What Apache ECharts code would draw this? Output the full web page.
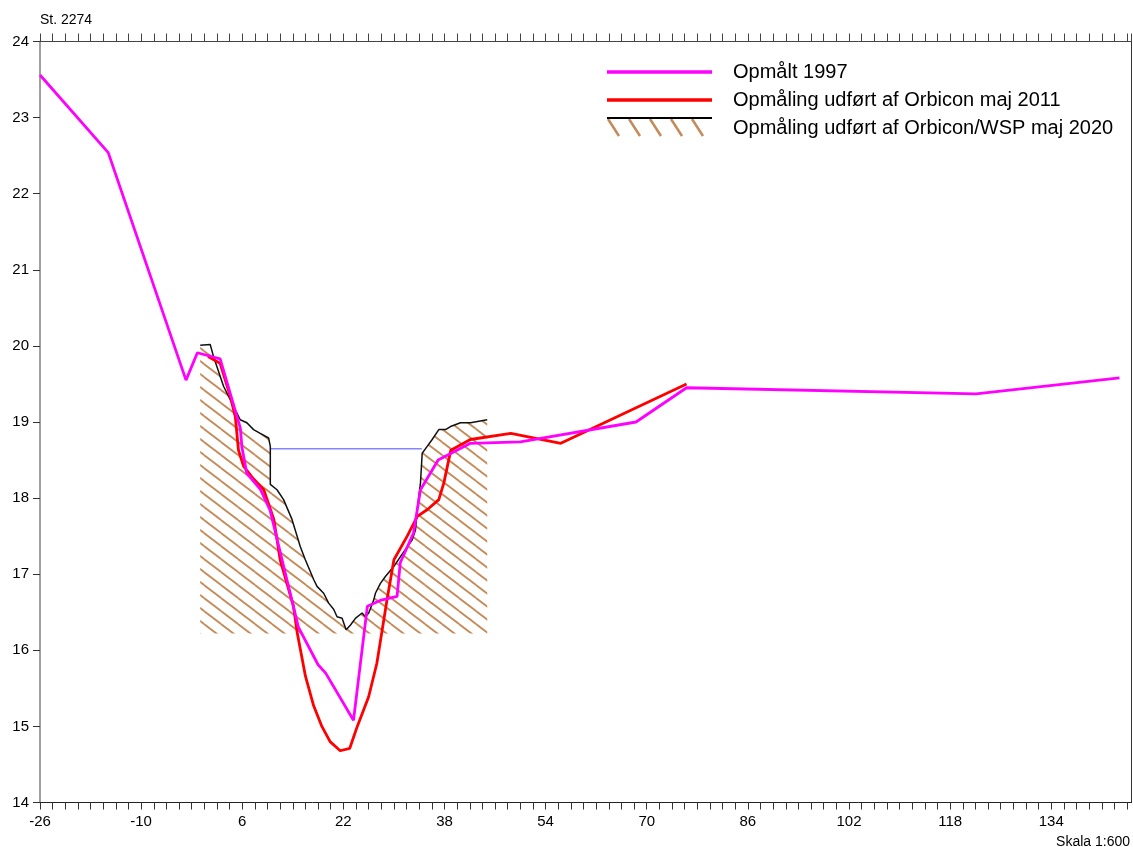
<!DOCTYPE html>
<html><head><meta charset="utf-8">
<script src="https://cdn.jsdelivr.net/npm/echarts@6/dist/echarts.min.js"></script>
<style>html,body{margin:0;padding:0;background:#fff}#c{width:1133px;height:847px}</style>
</head><body><div id="c"></div>
<script>
// ---- data ----
const m97X = [-26, -15.2, -2.9, -1.1, 2.5, 5.7, 5.95, 6.7, 8.9, 10.4, 14.9, 18.0, 19.2, 23.6, 25.8, 28.0, 30.5, 31.0, 33.1, 34.2, 37.0, 42.1, 50.0, 68.3, 76.3, 122.1, 144.8];
const m97Y = [23.56, 22.54, 19.55, 19.91, 19.83, 18.92, 18.67, 18.33, 18.11, 17.84, 16.30, 15.81, 15.70, 15.08, 16.58, 16.66, 16.71, 17.15, 17.54, 18.11, 18.50, 18.72, 18.74, 19.0, 19.45, 19.37, 19.58];

const r11X = [0.6, 2.5, 4.1, 4.9, 5.4, 6.2, 7.8, 9.4, 11.0, 12.0, 14.1, 14.7, 16.0, 17.3, 18.6, 19.9, 21.5, 23.0, 24.2, 26.0, 27.3, 28.9, 30.0, 32.1, 33.7, 35.3, 37.1, 37.9, 39.0, 42.1, 48.5, 56.4, 76.3];
const r11Y = [19.86, 19.77, 19.34, 19.07, 18.63, 18.42, 18.25, 18.11, 17.72, 17.19, 16.58, 16.23, 15.66, 15.27, 15.0, 14.80, 14.68, 14.71, 15.0, 15.39, 15.83, 16.66, 17.19, 17.50, 17.76, 17.85, 17.98, 18.20, 18.63, 18.77, 18.85, 18.72, 19.50];

const b20X = [-0.65, 0.93, 1.45, 3.04, 5.68, 6.74, 7.79, 8.85, 10.17, 10.44, 10.44, 11.5, 12.54, 13.87, 15.19, 15.98, 17.30, 17.83, 18.88, 19.67, 20.46, 21.0, 21.8, 22.43, 23.1, 23.9, 24.96, 25.49, 26.01, 26.8, 27.07, 27.86, 28.65, 29.97, 31.03, 32.09, 32.88, 33.41, 33.68, 34.2, 34.47, 35.26, 36.05, 37.1, 38.16, 38.95, 40.53, 42.12, 44.76];
const b20Y = [20.01, 20.02, 19.86, 19.47, 19.03, 18.99, 18.90, 18.85, 18.79, 18.68, 18.18, 18.11, 17.98, 17.72, 17.36, 17.19, 16.93, 16.84, 16.75, 16.62, 16.54, 16.44, 16.42, 16.27, 16.33, 16.42, 16.49, 16.44, 16.49, 16.66, 16.75, 16.88, 16.97, 17.10, 17.23, 17.36, 17.45, 17.58, 17.85, 18.20, 18.59, 18.68, 18.77, 18.90, 18.90, 18.94, 18.99, 18.99, 19.03];

const waterX = [10.44, 34.4];
const waterY = [18.65, 18.65];
const hatchBase = 16.22;

const names = ['Opmålt 1997', 'Opmåling udført af Orbicon maj 2011', 'Opmåling udført af Orbicon/WSP maj 2020'];
const stationLabel = 'St. 2274';
const scaleLabel = 'Skala 1:600';

// ---- styling helpers ----
const FONT = 'Liberation Sans, Arial, Helvetica, sans-serif';
const HATCH = '#c48a58';
function zip(xs, ys) { return xs.map((x, i) => [x, ys[i]]); }

function hatchTile() {
  const W = 17, H = 13;
  const c = document.createElement('canvas'); c.width = W; c.height = H;
  const g = c.getContext('2d');
  g.strokeStyle = HATCH; g.lineWidth = 1.8;
  [[0,0],[-W,0],[W,0],[0,-H],[0,H]].forEach(([ox, oy]) => {
    g.beginPath(); g.moveTo(ox, oy); g.lineTo(ox + W, oy + H); g.stroke();
  });
  return c;
}
function lineIcon(color, w) {
  const c = document.createElement('canvas'); c.width = 121; c.height = 22;
  const g = c.getContext('2d');
  g.strokeStyle = color; g.lineWidth = w;
  g.beginPath(); g.moveTo(0, 11); g.lineTo(105, 11); g.stroke();
  return 'image://' + c.toDataURL();
}
function hatchIcon() {
  const c = document.createElement('canvas'); c.width = 121; c.height = 22;
  const g = c.getContext('2d');
  g.strokeStyle = HATCH; g.lineWidth = 2.5;
  for (let k = 0; k < 5; k++) {
    g.beginPath(); g.moveTo(1 + k * 21, 2); g.lineTo(12 + k * 21, 19); g.stroke();
  }
  g.strokeStyle = '#000'; g.lineWidth = 2;
  g.beginPath(); g.moveTo(0, 1); g.lineTo(105, 1); g.stroke();
  return 'image://' + c.toDataURL();
}

const tile = hatchTile();
const XMIN = -26, XMAX = 146.7;

const chart = echarts.init(document.getElementById('c'), null, { renderer: 'canvas' });
chart.setOption({
  animation: false,
  backgroundColor: '#fff',
  textStyle: { fontFamily: FONT },
  grid: { left: 40, right: 1.5, top: 41.5, bottom: 44.5, containLabel: false },
  legend: {
    orient: 'vertical', left: 607, top: 61, padding: 0,
    itemWidth: 121, itemHeight: 22, itemGap: 6,
    selectedMode: false,
    textStyle: { fontSize: 20, color: '#000', fontFamily: FONT, lineHeight: 22 },
    data: [
      { name: names[0], icon: lineIcon('#ff00ff', 3.5) },
      { name: names[1], icon: lineIcon('#ff0000', 3.5) },
      { name: names[2], icon: hatchIcon() }
    ]
  },
  graphic: [
    { type: 'text', left: 40, top: 13, style: { text: stationLabel, font: '14px ' + FONT, fill: '#000' } },
    { type: 'text', right: 3, top: 835, style: { text: scaleLabel, font: '14px ' + FONT, fill: '#000' } }
  ],
  xAxis: [
    {
      type: 'value', position: 'bottom', min: XMIN, max: XMAX, interval: 2,
      axisLine: { show: true, onZero: false, lineStyle: { color: '#222', width: 1 } },
      axisTick: { show: true, inside: false, length: 7, lineStyle: { color: '#333', width: 1 } },
      axisLabel: {
        show: true, fontSize: 15, color: '#000', margin: 12, fontFamily: FONT,
        showMaxLabel: false,
        formatter: v => { const r = Math.round(v); return ((r - XMIN) % 16 === 0 && Math.abs(v - r) < 1e-6) ? String(r) : ''; }
      },
      splitLine: { show: false }
    },
    {
      type: 'value', position: 'top', min: XMIN, max: XMAX, interval: 2,
      axisLine: { show: true, onZero: false, lineStyle: { color: '#444', width: 1 } },
      axisTick: { show: true, inside: false, length: 8, lineStyle: { color: '#444', width: 1 } },
      axisLabel: { show: false },
      splitLine: { show: false }
    }
  ],
  yAxis: [
    {
      type: 'value', position: 'left', min: 14, max: 24, interval: 1,
      axisLine: { show: true, onZero: false, lineStyle: { color: '#808080', width: 1.5 } },
      axisTick: { show: true, inside: false, length: 7, lineStyle: { color: '#333', width: 1 } },
      axisLabel: { fontSize: 15, color: '#000', margin: 11, fontFamily: FONT },
      splitLine: { show: false }
    },
    {
      type: 'value', position: 'right', min: 14, max: 24, interval: 1,
      axisLine: { show: true, onZero: false, lineStyle: { color: '#333', width: 1 } },
      axisTick: { show: false }, axisLabel: { show: false }, splitLine: { show: false }
    }
  ],
  series: [
    {
      type: 'custom', name: 'hatch', silent: true, z: 1,
      data: [[b20X[0], hatchBase]],
      renderItem: function (params, api) {
        const pts = b20X.map((x, i) => api.coord([x, b20Y[i]]));
        pts.push(api.coord([b20X[b20X.length - 1], hatchBase]));
        pts.push(api.coord([b20X[0], hatchBase]));
        return { type: 'polygon', shape: { points: pts }, style: { fill: { image: tile, repeat: 'repeat' }, stroke: null } };
      }
    },
    {
      type: 'line', name: 'water', data: zip(waterX, waterY), symbol: 'none', z: 2, silent: true,
      lineStyle: { color: '#8585ff', width: 1.5 }
    },
    {
      type: 'line', name: names[2], data: zip(b20X, b20Y), symbol: 'none', z: 3,
      itemStyle: { color: '#000' }, lineStyle: { color: '#111', width: 1.5 }
    },
    {
      type: 'line', name: names[1], data: zip(r11X, r11Y), symbol: 'none', z: 4,
      itemStyle: { color: '#ff0000' }, lineStyle: { color: '#ff0000', width: 2.8 }
    },
    {
      type: 'line', name: names[0], data: zip(m97X, m97Y), symbol: 'none', z: 5,
      itemStyle: { color: '#ff00ff' }, lineStyle: { color: '#ff00ff', width: 2.8 }
    }
  ]
});
</script></body></html>
